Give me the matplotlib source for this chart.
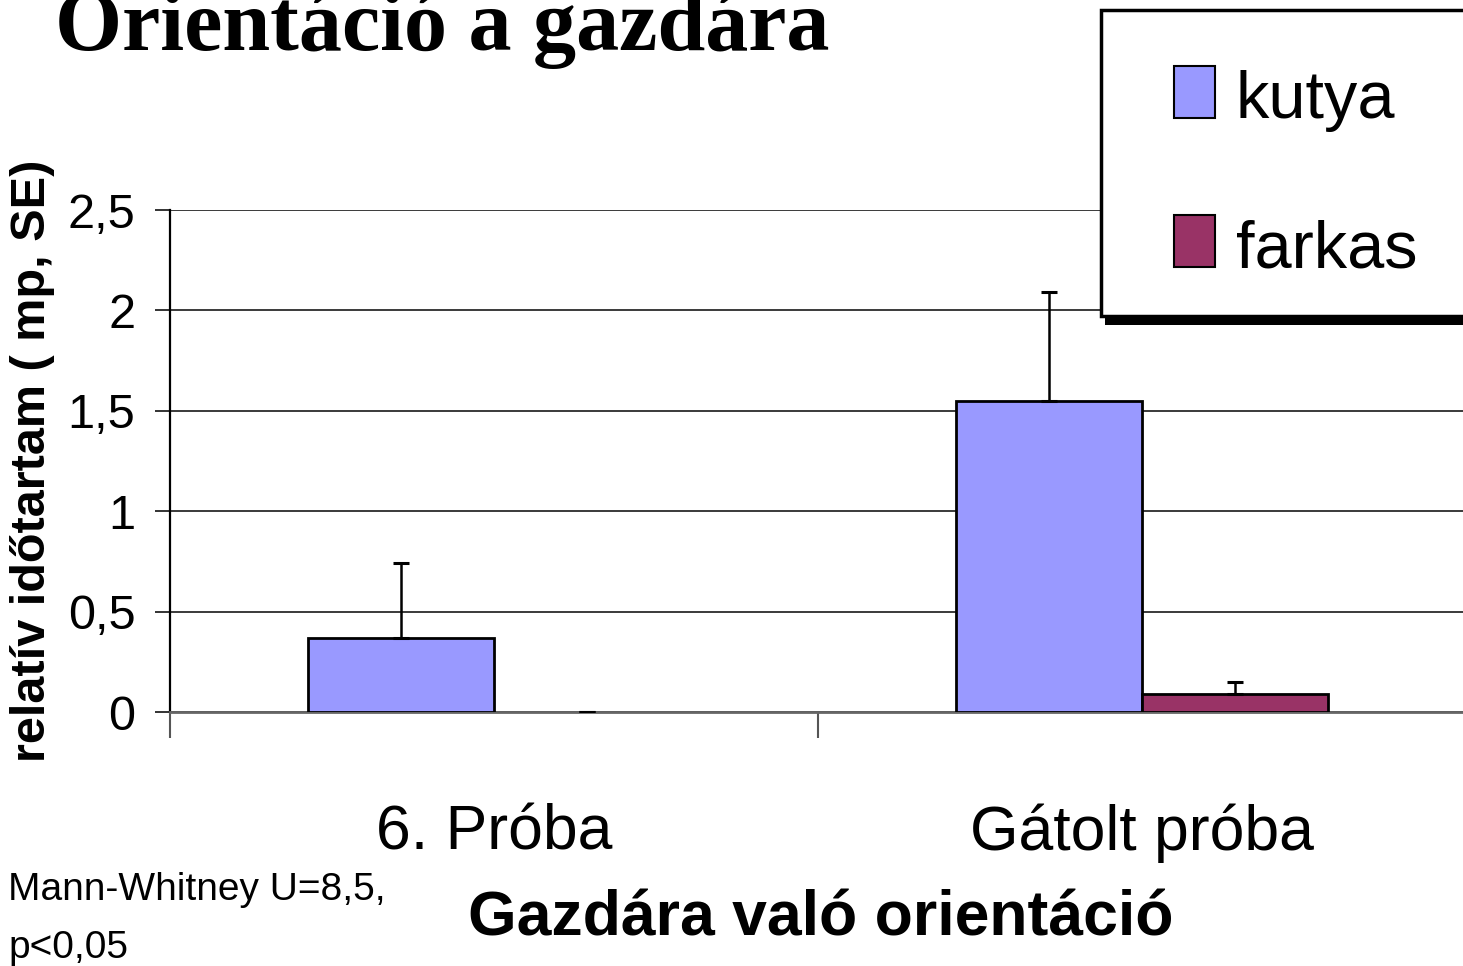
import matplotlib
matplotlib.use('Agg')
import matplotlib.pyplot as plt
from matplotlib.patches import Rectangle
import numpy as np

# adatok
categories = ['6. Próba', 'Gátolt próba']
series_names = ['kutya', 'farkas']
kutya = [0.37, 1.55]
kutya_se = [0.37, 0.54]
farkas = [0.0, 0.09]
farkas_se = [0.0, 0.06]
yticks = [0, 0.5, 1, 1.5, 2, 2.5]
ytick_labels = ['0', '0,5', '1', '1,5', '2', '2,5']

c_kutya = '#9999FF'
c_farkas = '#993366'
sans = ['Liberation Sans Narrow', 'Liberation Sans', 'DejaVu Sans']

fig = plt.figure(figsize=(14.63, 9.66), dpi=100)
ax = fig.add_axes([170 / 1463, (966 - 712) / 966, 1296 / 1463, 502 / 966])

x = np.arange(len(categories)) + 0.5
w = 0.287
err_k = [np.zeros(len(kutya_se)), kutya_se]
err_f = [np.zeros(len(farkas_se)), farkas_se]

# nulla magasságú oszlopnak nincs kerete
lw_k = [2 if v > 0 else 0 for v in kutya]
lw_f = [2 if v > 0 else 0 for v in farkas]
ax.bar(x - w / 2, kutya, w, color=c_kutya, edgecolor='black', linewidth=lw_k, zorder=3)
ax.bar(x + w / 2, farkas, w, color=c_farkas, edgecolor='black', linewidth=lw_f, zorder=3)
ax.errorbar(x - w / 2, kutya, yerr=err_k, fmt='none', ecolor='black',
            elinewidth=1.8, capsize=6, capthick=2.2, zorder=4)
ax.errorbar(x + w / 2, farkas, yerr=err_f, fmt='none', ecolor='black',
            elinewidth=1.8, capsize=6, capthick=2.2, zorder=4)

ax.set_xlim(0, 2)
ax.set_ylim(0, 2.5)
ax.set_yticks(yticks)
ax.set_yticklabels(ytick_labels, family=sans, fontsize=35)
ax.yaxis.grid(True, color='#3a3a3a', linewidth=1.4, zorder=0)
ax.set_axisbelow(True)

# kategória határok
ax.set_xticks([0, 1, 2])
ax.set_xticklabels(['', '', ''])
ax.set_xticks(x, minor=True)
ax.set_xticklabels(categories, minor=True, family=sans, fontsize=45)
ax.tick_params(axis='x', which='major', length=19, width=1.5, color='#555555', direction='out')
ax.tick_params(axis='x', which='minor', length=0, pad=66)
ax.tick_params(axis='y', length=11, width=1.4, color='#333333', pad=14)

for s in ['top', 'right']:
    ax.spines[s].set_visible(False)
ax.spines['left'].set_linewidth(1.6)
ax.spines['left'].set_color('black')
ax.spines['bottom'].set_linewidth(2)
ax.spines['bottom'].set_color('#666666')

ax.set_ylabel('relatív időtartam ( mp, SE)', family='Liberation Sans', fontweight='bold', fontsize=35)
ax.yaxis.set_label_coords(-0.089, 0.5)
ax.set_xlabel('Gazdára való orientáció', family=sans, fontweight='bold', fontsize=45)
ax.xaxis.set_label_coords(0.502, -0.353)

fig.text(55 / 1463, 1 - 50 / 966, 'Orientáció a gazdára', family='Liberation Serif',
         fontweight='bold', fontsize=62, va='baseline', ha='left')
fig.text(8 / 1463, 1 - 958 / 966, 'Mann-Whitney U=8,5,\np<0,05', family=sans,
         fontsize=28, va='baseline', ha='left', linespacing=1.8)

# jelmagyarázat
fig.patches.append(Rectangle((1105 / 1463, 1 - 325 / 966), 400 / 1463, 310 / 966,
                             transform=fig.transFigure, facecolor='black', zorder=5))
fig.patches.append(Rectangle((1101 / 1463, 1 - 316 / 966), 400 / 1463, 306 / 966,
                             transform=fig.transFigure, facecolor='white', edgecolor='black',
                             linewidth=2.5, zorder=6))
for i, (name, col) in enumerate(zip(series_names, [c_kutya, c_farkas])):
    top = 66 + i * 149
    fig.patches.append(Rectangle((1174 / 1463, 1 - (top + 52) / 966), 41 / 1463, 52 / 966,
                                 transform=fig.transFigure, facecolor=col, edgecolor='black',
                                 linewidth=1.5, zorder=7))
    fig.text(1236 / 1463, 1 - (top + 52) / 966, name, family=sans, fontsize=48,
             va='baseline', ha='left', zorder=8)

fig.savefig('out.png', dpi=100)
